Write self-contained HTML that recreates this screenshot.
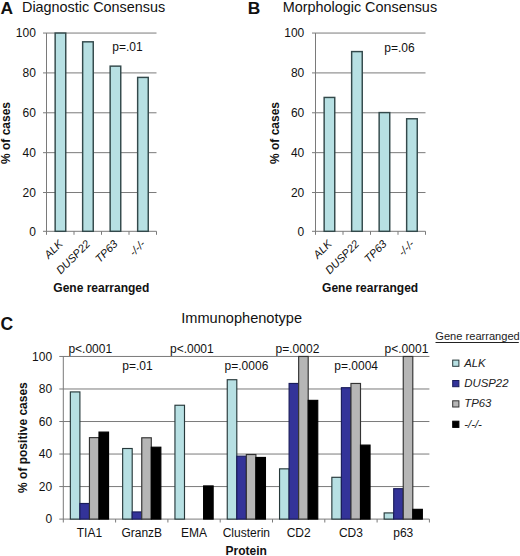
<!DOCTYPE html>
<html><head><meta charset="utf-8"><style>
html,body{margin:0;padding:0;background:#fff;}
svg{display:block;font-family:"Liberation Sans", sans-serif;}
</style></head><body>
<svg width="520" height="556" viewBox="0 0 520 556">
<rect width="520" height="556" fill="#fff"/>
<line x1="43.0" y1="192.53" x2="156.5" y2="192.53" stroke="#7a7a7a" stroke-width="1"/>
<line x1="43.0" y1="152.66" x2="156.5" y2="152.66" stroke="#7a7a7a" stroke-width="1"/>
<line x1="43.0" y1="112.79" x2="156.5" y2="112.79" stroke="#7a7a7a" stroke-width="1"/>
<line x1="43.0" y1="72.91999999999999" x2="156.5" y2="72.91999999999999" stroke="#7a7a7a" stroke-width="1"/>
<line x1="43.0" y1="33.05000000000001" x2="156.5" y2="33.05000000000001" stroke="#7a7a7a" stroke-width="1"/>
<line x1="43.0" y1="231.3" x2="156.5" y2="231.3" stroke="#7a7a7a" stroke-width="1"/>
<line x1="46.5" y1="33.05000000000001" x2="46.5" y2="234.8" stroke="#7a7a7a" stroke-width="1"/>
<line x1="74.0" y1="231.3" x2="74.0" y2="234.8" stroke="#7a7a7a" stroke-width="1"/>
<line x1="101.5" y1="231.3" x2="101.5" y2="234.8" stroke="#7a7a7a" stroke-width="1"/>
<line x1="129.0" y1="231.3" x2="129.0" y2="234.8" stroke="#7a7a7a" stroke-width="1"/>
<line x1="156.5" y1="231.3" x2="156.5" y2="234.8" stroke="#7a7a7a" stroke-width="1"/>
<text x="35.9" y="235.5" font-size="12" font-weight="normal" font-style="normal" text-anchor="end" fill="#111111">0</text>
<text x="35.9" y="196.73" font-size="12" font-weight="normal" font-style="normal" text-anchor="end" fill="#111111">20</text>
<text x="35.9" y="156.85999999999999" font-size="12" font-weight="normal" font-style="normal" text-anchor="end" fill="#111111">40</text>
<text x="35.9" y="116.99000000000001" font-size="12" font-weight="normal" font-style="normal" text-anchor="end" fill="#111111">60</text>
<text x="35.9" y="77.11999999999999" font-size="12" font-weight="normal" font-style="normal" text-anchor="end" fill="#111111">80</text>
<text x="35.9" y="37.250000000000014" font-size="12" font-weight="normal" font-style="normal" text-anchor="end" fill="#111111">100</text>
<rect x="55.15" y="33.05" width="10.60" height="198.25" fill="#b7e0e3" stroke="#33494b" stroke-width="1.45"/>
<rect x="82.65" y="41.82" width="10.60" height="189.48" fill="#b7e0e3" stroke="#33494b" stroke-width="1.45"/>
<rect x="110.15" y="66.14" width="10.60" height="165.16" fill="#b7e0e3" stroke="#33494b" stroke-width="1.45"/>
<rect x="137.65" y="77.41" width="10.60" height="153.89" fill="#b7e0e3" stroke="#33494b" stroke-width="1.45"/>
<text x="0" y="0" font-size="11" font-weight="normal" font-style="italic" text-anchor="end" fill="#111111" transform="translate(63.45,244.6) rotate(-45)">ALK</text>
<text x="0" y="0" font-size="11" font-weight="normal" font-style="italic" text-anchor="end" fill="#111111" transform="translate(90.95,244.6) rotate(-45)">DUSP22</text>
<text x="0" y="0" font-size="11" font-weight="normal" font-style="italic" text-anchor="end" fill="#111111" transform="translate(118.45,244.6) rotate(-45)">TP63</text>
<text x="0" y="0" font-size="11" font-weight="normal" font-style="italic" text-anchor="end" fill="#111111" transform="translate(145.95,244.6) rotate(-45)">-/-/-</text>
<text x="0" y="0" font-size="12" font-weight="bold" font-style="normal" text-anchor="middle" fill="#111111" transform="translate(10.0,133) rotate(-90)">% of cases</text>
<text x="53.3" y="291.9" font-size="12" font-weight="bold" font-style="normal" text-anchor="start" fill="#111111">Gene rearranged</text>
<text x="112.3" y="50.8" font-size="12" font-weight="normal" font-style="normal" text-anchor="start" fill="#111111">p=.01</text>
<text x="0.6" y="13.8" font-size="17.4" font-weight="bold" font-style="normal" text-anchor="start" fill="#111111">A</text>
<text x="22.0" y="12.3" font-size="14.4" font-weight="normal" font-style="normal" text-anchor="start" fill="#111111">Diagnostic Consensus</text>
<line x1="312.0" y1="192.53" x2="425.5" y2="192.53" stroke="#7a7a7a" stroke-width="1"/>
<line x1="312.0" y1="152.66" x2="425.5" y2="152.66" stroke="#7a7a7a" stroke-width="1"/>
<line x1="312.0" y1="112.79" x2="425.5" y2="112.79" stroke="#7a7a7a" stroke-width="1"/>
<line x1="312.0" y1="72.91999999999999" x2="425.5" y2="72.91999999999999" stroke="#7a7a7a" stroke-width="1"/>
<line x1="312.0" y1="33.05000000000001" x2="425.5" y2="33.05000000000001" stroke="#7a7a7a" stroke-width="1"/>
<line x1="312.0" y1="231.3" x2="425.5" y2="231.3" stroke="#7a7a7a" stroke-width="1"/>
<line x1="315.5" y1="33.05000000000001" x2="315.5" y2="234.8" stroke="#7a7a7a" stroke-width="1"/>
<line x1="343.0" y1="231.3" x2="343.0" y2="234.8" stroke="#7a7a7a" stroke-width="1"/>
<line x1="370.5" y1="231.3" x2="370.5" y2="234.8" stroke="#7a7a7a" stroke-width="1"/>
<line x1="398.0" y1="231.3" x2="398.0" y2="234.8" stroke="#7a7a7a" stroke-width="1"/>
<line x1="425.5" y1="231.3" x2="425.5" y2="234.8" stroke="#7a7a7a" stroke-width="1"/>
<text x="304.3" y="235.5" font-size="12" font-weight="normal" font-style="normal" text-anchor="end" fill="#111111">0</text>
<text x="304.3" y="196.73" font-size="12" font-weight="normal" font-style="normal" text-anchor="end" fill="#111111">20</text>
<text x="304.3" y="156.85999999999999" font-size="12" font-weight="normal" font-style="normal" text-anchor="end" fill="#111111">40</text>
<text x="304.3" y="116.99000000000001" font-size="12" font-weight="normal" font-style="normal" text-anchor="end" fill="#111111">60</text>
<text x="304.3" y="77.11999999999999" font-size="12" font-weight="normal" font-style="normal" text-anchor="end" fill="#111111">80</text>
<text x="304.3" y="37.250000000000014" font-size="12" font-weight="normal" font-style="normal" text-anchor="end" fill="#111111">100</text>
<rect x="324.15" y="97.44" width="10.60" height="133.86" fill="#b7e0e3" stroke="#33494b" stroke-width="1.45"/>
<rect x="351.65" y="51.59" width="10.60" height="179.71" fill="#b7e0e3" stroke="#33494b" stroke-width="1.45"/>
<rect x="379.15" y="112.59" width="10.60" height="118.71" fill="#b7e0e3" stroke="#33494b" stroke-width="1.45"/>
<rect x="406.65" y="118.77" width="10.60" height="112.53" fill="#b7e0e3" stroke="#33494b" stroke-width="1.45"/>
<text x="0" y="0" font-size="11" font-weight="normal" font-style="italic" text-anchor="end" fill="#111111" transform="translate(332.45,244.6) rotate(-45)">ALK</text>
<text x="0" y="0" font-size="11" font-weight="normal" font-style="italic" text-anchor="end" fill="#111111" transform="translate(359.95,244.6) rotate(-45)">DUSP22</text>
<text x="0" y="0" font-size="11" font-weight="normal" font-style="italic" text-anchor="end" fill="#111111" transform="translate(387.45,244.6) rotate(-45)">TP63</text>
<text x="0" y="0" font-size="11" font-weight="normal" font-style="italic" text-anchor="end" fill="#111111" transform="translate(414.95,244.6) rotate(-45)">-/-/-</text>
<text x="0" y="0" font-size="12" font-weight="bold" font-style="normal" text-anchor="middle" fill="#111111" transform="translate(278.6,133) rotate(-90)">% of cases</text>
<text x="322.1" y="291.9" font-size="12" font-weight="bold" font-style="normal" text-anchor="start" fill="#111111">Gene rearranged</text>
<text x="384.3" y="51.5" font-size="12" font-weight="normal" font-style="normal" text-anchor="start" fill="#111111">p=.06</text>
<text x="247.8" y="13.8" font-size="17.4" font-weight="bold" font-style="normal" text-anchor="start" fill="#111111">B</text>
<text x="282.7" y="12.3" font-size="14.4" font-weight="normal" font-style="normal" text-anchor="start" fill="#111111">Morphologic Consensus</text>
<line x1="59.3" y1="486.572" x2="429.4" y2="486.572" stroke="#7a7a7a" stroke-width="1"/>
<line x1="59.3" y1="454.044" x2="429.4" y2="454.044" stroke="#7a7a7a" stroke-width="1"/>
<line x1="59.3" y1="421.51599999999996" x2="429.4" y2="421.51599999999996" stroke="#7a7a7a" stroke-width="1"/>
<line x1="59.3" y1="388.98799999999994" x2="429.4" y2="388.98799999999994" stroke="#7a7a7a" stroke-width="1"/>
<line x1="59.3" y1="356.46" x2="429.4" y2="356.46" stroke="#7a7a7a" stroke-width="1"/>
<line x1="59.3" y1="519.1" x2="429.4" y2="519.1" stroke="#7a7a7a" stroke-width="1"/>
<line x1="63.3" y1="356.46" x2="63.3" y2="522.5" stroke="#7a7a7a" stroke-width="1"/>
<line x1="115.6" y1="519.1" x2="115.6" y2="522.5" stroke="#7a7a7a" stroke-width="1"/>
<line x1="167.89999999999998" y1="519.1" x2="167.89999999999998" y2="522.5" stroke="#7a7a7a" stroke-width="1"/>
<line x1="220.2" y1="519.1" x2="220.2" y2="522.5" stroke="#7a7a7a" stroke-width="1"/>
<line x1="272.5" y1="519.1" x2="272.5" y2="522.5" stroke="#7a7a7a" stroke-width="1"/>
<line x1="324.8" y1="519.1" x2="324.8" y2="522.5" stroke="#7a7a7a" stroke-width="1"/>
<line x1="377.09999999999997" y1="519.1" x2="377.09999999999997" y2="522.5" stroke="#7a7a7a" stroke-width="1"/>
<line x1="429.4" y1="519.1" x2="429.4" y2="522.5" stroke="#7a7a7a" stroke-width="1"/>
<text x="52.1" y="523.3000000000001" font-size="12" font-weight="normal" font-style="normal" text-anchor="end" fill="#111111">0</text>
<text x="52.1" y="490.772" font-size="12" font-weight="normal" font-style="normal" text-anchor="end" fill="#111111">20</text>
<text x="52.1" y="458.24399999999997" font-size="12" font-weight="normal" font-style="normal" text-anchor="end" fill="#111111">40</text>
<text x="52.1" y="425.71599999999995" font-size="12" font-weight="normal" font-style="normal" text-anchor="end" fill="#111111">60</text>
<text x="52.1" y="393.18799999999993" font-size="12" font-weight="normal" font-style="normal" text-anchor="end" fill="#111111">80</text>
<text x="52.1" y="360.65999999999997" font-size="12" font-weight="normal" font-style="normal" text-anchor="end" fill="#111111">100</text>
<rect x="70.35" y="391.92" width="9.55" height="127.18" fill="#b7e0e3" stroke="#27393b" stroke-width="1.15"/>
<rect x="79.90" y="503.49" width="9.55" height="15.61" fill="#333399" stroke="#1a1d5a" stroke-width="1.15"/>
<rect x="89.45" y="437.62" width="9.55" height="81.48" fill="#b6b6b6" stroke="#333333" stroke-width="1.15"/>
<rect x="99.00" y="432.09" width="9.55" height="87.01" fill="#000000" stroke="#000000" stroke-width="1.15"/>
<text x="89.44999999999999" y="537.3" font-size="12" font-weight="normal" font-style="normal" text-anchor="middle" fill="#111111">TIA1</text>
<rect x="122.65" y="448.51" width="9.55" height="70.59" fill="#b7e0e3" stroke="#27393b" stroke-width="1.15"/>
<rect x="132.20" y="511.94" width="9.55" height="7.16" fill="#333399" stroke="#1a1d5a" stroke-width="1.15"/>
<rect x="141.75" y="437.78" width="9.55" height="81.32" fill="#b6b6b6" stroke="#333333" stroke-width="1.15"/>
<rect x="151.30" y="447.21" width="9.55" height="71.89" fill="#000000" stroke="#000000" stroke-width="1.15"/>
<text x="141.75" y="537.3" font-size="12" font-weight="normal" font-style="normal" text-anchor="middle" fill="#111111">GranzB</text>
<rect x="174.95" y="405.25" width="9.55" height="113.85" fill="#b7e0e3" stroke="#27393b" stroke-width="1.15"/>
<rect x="203.60" y="485.92" width="9.55" height="33.18" fill="#000000" stroke="#000000" stroke-width="1.15"/>
<text x="194.05" y="537.3" font-size="12" font-weight="normal" font-style="normal" text-anchor="middle" fill="#111111">EMA</text>
<rect x="227.25" y="379.72" width="9.55" height="139.38" fill="#b7e0e3" stroke="#27393b" stroke-width="1.15"/>
<rect x="236.80" y="456.16" width="9.55" height="62.94" fill="#333399" stroke="#1a1d5a" stroke-width="1.15"/>
<rect x="246.35" y="454.53" width="9.55" height="64.57" fill="#b6b6b6" stroke="#333333" stroke-width="1.15"/>
<rect x="255.90" y="457.46" width="9.55" height="61.64" fill="#000000" stroke="#000000" stroke-width="1.15"/>
<text x="246.34999999999997" y="537.3" font-size="12" font-weight="normal" font-style="normal" text-anchor="middle" fill="#111111">Clusterin</text>
<rect x="279.55" y="468.84" width="9.55" height="50.26" fill="#b7e0e3" stroke="#27393b" stroke-width="1.15"/>
<rect x="289.10" y="383.46" width="9.55" height="135.64" fill="#333399" stroke="#1a1d5a" stroke-width="1.15"/>
<rect x="298.65" y="356.46" width="9.55" height="162.64" fill="#b6b6b6" stroke="#333333" stroke-width="1.15"/>
<rect x="308.20" y="400.37" width="9.55" height="118.73" fill="#000000" stroke="#000000" stroke-width="1.15"/>
<text x="298.65" y="537.3" font-size="12" font-weight="normal" font-style="normal" text-anchor="middle" fill="#111111">CD2</text>
<rect x="331.85" y="477.30" width="9.55" height="41.80" fill="#b7e0e3" stroke="#27393b" stroke-width="1.15"/>
<rect x="341.40" y="387.69" width="9.55" height="131.41" fill="#333399" stroke="#1a1d5a" stroke-width="1.15"/>
<rect x="350.95" y="383.46" width="9.55" height="135.64" fill="#b6b6b6" stroke="#333333" stroke-width="1.15"/>
<rect x="360.50" y="445.10" width="9.55" height="74.00" fill="#000000" stroke="#000000" stroke-width="1.15"/>
<text x="350.95" y="537.3" font-size="12" font-weight="normal" font-style="normal" text-anchor="middle" fill="#111111">CD3</text>
<rect x="384.15" y="512.92" width="9.55" height="6.18" fill="#b7e0e3" stroke="#27393b" stroke-width="1.15"/>
<rect x="393.70" y="488.69" width="9.55" height="30.41" fill="#333399" stroke="#1a1d5a" stroke-width="1.15"/>
<rect x="403.25" y="356.46" width="9.55" height="162.64" fill="#b6b6b6" stroke="#333333" stroke-width="1.15"/>
<rect x="412.80" y="509.34" width="9.55" height="9.76" fill="#000000" stroke="#000000" stroke-width="1.15"/>
<text x="403.25" y="537.3" font-size="12" font-weight="normal" font-style="normal" text-anchor="middle" fill="#111111">p63</text>
<text x="68.4" y="353.2" font-size="12" font-weight="normal" font-style="normal" text-anchor="start" fill="#111111">p&lt;.0001</text>
<text x="122.3" y="369.7" font-size="12" font-weight="normal" font-style="normal" text-anchor="start" fill="#111111">p=.01</text>
<text x="170.0" y="353.2" font-size="12" font-weight="normal" font-style="normal" text-anchor="start" fill="#111111">p&lt;.0001</text>
<text x="224.6" y="369.7" font-size="12" font-weight="normal" font-style="normal" text-anchor="start" fill="#111111">p=.0006</text>
<text x="275.6" y="353.2" font-size="12" font-weight="normal" font-style="normal" text-anchor="start" fill="#111111">p=.0002</text>
<text x="334.3" y="369.7" font-size="12" font-weight="normal" font-style="normal" text-anchor="start" fill="#111111">p=.0004</text>
<text x="384.6" y="353.2" font-size="12" font-weight="normal" font-style="normal" text-anchor="start" fill="#111111">p&lt;.0001</text>
<text x="26.6" y="437.6" font-size="12" font-weight="bold" font-style="normal" text-anchor="middle" fill="#111111" transform="rotate(-90 26.6 437.6)">% of positive cases</text>
<text x="246.2" y="555.0" font-size="12" font-weight="bold" font-style="normal" text-anchor="middle" fill="#111111">Protein</text>
<text x="0.6" y="329.7" font-size="17.6" font-weight="bold" font-style="normal" text-anchor="start" fill="#111111">C</text>
<text x="181.2" y="323.3" font-size="14.6" font-weight="normal" font-style="normal" text-anchor="start" fill="#111111">Immunophenotype</text>
<text x="435.3" y="340.1" font-size="11.1" font-weight="normal" font-style="normal" text-anchor="start" fill="#222">Gene rearranged</text>
<line x1="435.5" y1="342.5" x2="518.8" y2="342.5" stroke="#222" stroke-width="1"/>
<rect x="452.70" y="360.10" width="6.20" height="6.20" fill="#b7e0e3" stroke="#27393b" stroke-width="1"/>
<text x="464.2" y="366.6" font-size="11.4" font-weight="normal" font-style="italic" text-anchor="start" fill="#222">ALK</text>
<rect x="452.70" y="380.50" width="6.20" height="6.20" fill="#333399" stroke="#1a1d5a" stroke-width="1"/>
<text x="464.2" y="387.0" font-size="11.4" font-weight="normal" font-style="italic" text-anchor="start" fill="#222">DUSP22</text>
<rect x="452.70" y="400.80" width="6.20" height="6.20" fill="#b6b6b6" stroke="#333" stroke-width="1"/>
<text x="464.2" y="407.3" font-size="11.4" font-weight="normal" font-style="italic" text-anchor="start" fill="#222">TP63</text>
<rect x="452.70" y="421.20" width="6.20" height="6.20" fill="#000000" stroke="#000" stroke-width="1"/>
<text x="464.2" y="427.7" font-size="11.4" font-weight="normal" font-style="italic" text-anchor="start" fill="#222">-/-/-</text>
</svg>
</body></html>
